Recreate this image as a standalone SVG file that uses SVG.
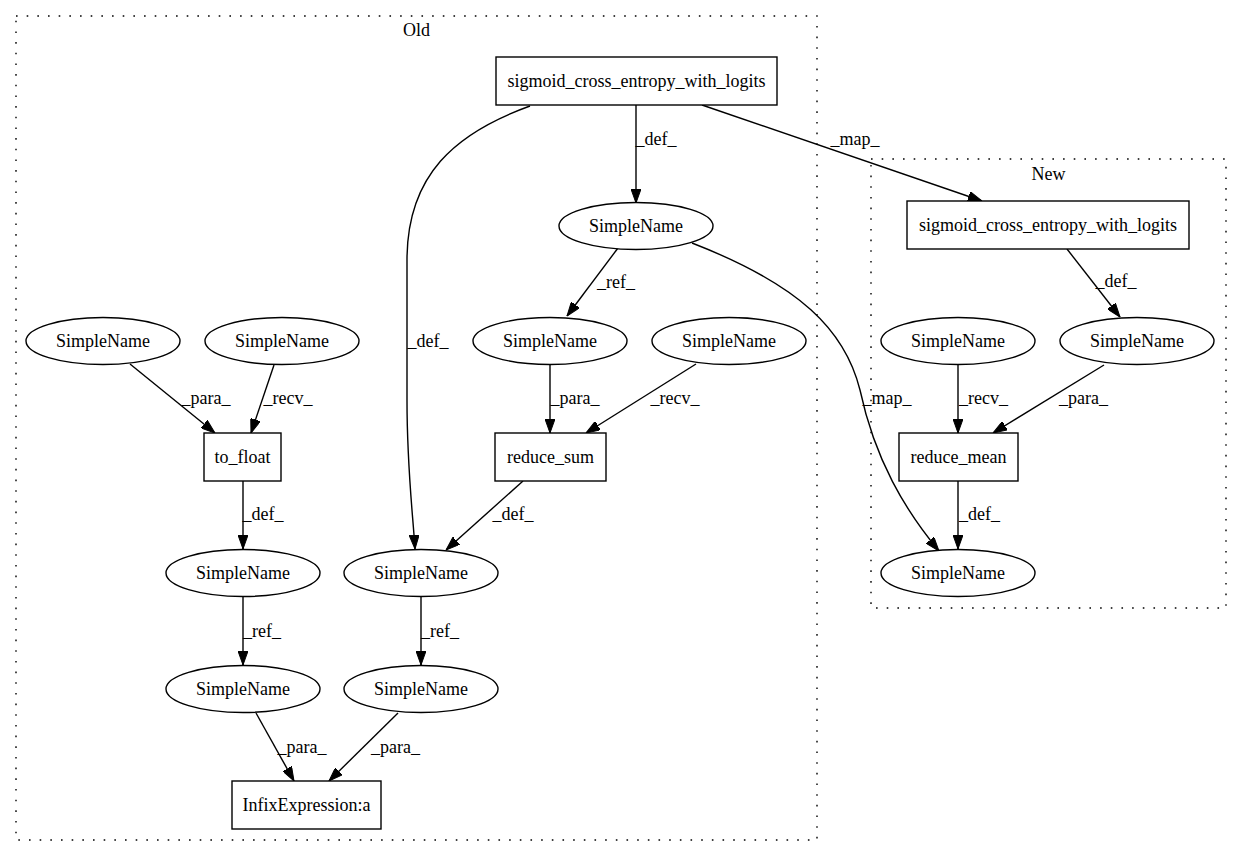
<svg xmlns="http://www.w3.org/2000/svg" width="1241" height="856" viewBox="0 0 1241 856">
<style>
text{font-family:"Liberation Serif","Times New Roman",serif;font-size:18px;fill:#000;text-anchor:middle}
.cl{fill:none;stroke:#000;stroke-width:1.4;stroke-dasharray:1.6,9.07}
.nd rect,.nd ellipse{fill:#fff;stroke:#000;stroke-width:1.4}
.ed path{fill:none;stroke:#000;stroke-width:1.4;marker-end:url(#ah)}
</style>
<defs>
<marker id="ah" viewBox="0 0 14 10" refX="14" refY="5" markerWidth="14" markerHeight="10" markerUnits="userSpaceOnUse" orient="auto">
<path d="M0,0 L14,5 L0,10 z" fill="#000" stroke="#000" stroke-width="1"/>
</marker>
</defs>
<rect width="1241" height="856" fill="#fff"/>
<g id="cluster_old"><rect class="cl" x="16" y="16" width="801" height="824"/><text x="416.5" y="36">Old</text></g>
<g id="cluster_new"><rect class="cl" x="871" y="159" width="355" height="449"/><text x="1048.5" y="180">New</text></g>
<g id="edges" class="ed">
<path d="M636,105 L636,203"/>
<path d="M530,106 C455,133 407,175 407,260 L407,400 C407,470 413,515 415,549"/>
<path d="M702,105 L982,201"/>
<path d="M618,248 L567,316"/>
<path d="M692,243 C800,285 845,330 860,390 C875,460 905,510 939,551"/>
<path d="M550,364 L550,433"/>
<path d="M696,364 L586,433"/>
<path d="M523,481 L446,550"/>
<path d="M130,364 L215,433"/>
<path d="M274,365 L251,433"/>
<path d="M243,481 L243,549"/>
<path d="M243,597 L243,665"/>
<path d="M421,597 L421,665"/>
<path d="M256,713 L294,781"/>
<path d="M398,713 L329,781"/>
<path d="M1067,249 L1120,317"/>
<path d="M958,364 L958,433"/>
<path d="M1104,365 L993,433"/>
<path d="M958,481 L958,549"/>
</g>
<g id="edge_labels">
<text x="656" y="145">_def_</text>
<text x="428" y="347">_def_</text>
<text x="855" y="145">_map_</text>
<text x="616" y="288">_ref_</text>
<text x="887" y="404">_map_</text>
<text x="575" y="404">_para_</text>
<text x="675" y="404">_recv_</text>
<text x="513" y="520">_def_</text>
<text x="206" y="404">_para_</text>
<text x="288" y="404">_recv_</text>
<text x="263" y="520">_def_</text>
<text x="262" y="637">_ref_</text>
<text x="440" y="637">_ref_</text>
<text x="302" y="753">_para_</text>
<text x="395.5" y="753">_para_</text>
<text x="1116" y="287">_def_</text>
<text x="983.5" y="404">_recv_</text>
<text x="1083.5" y="404">_para_</text>
<text x="979.5" y="520">_def_</text>
</g>
<g id="n_sig_old" class="nd"><rect x="496" y="57" width="281" height="48"/><text x="636.5" y="87">sigmoid_cross_entropy_with_logits</text></g>
<g id="n_sn1" class="nd"><ellipse cx="636" cy="226" rx="77" ry="23.5"/><text x="636" y="232">SimpleName</text></g>
<g id="n_sn_l1" class="nd"><ellipse cx="103" cy="341" rx="77" ry="23.5"/><text x="103" y="347">SimpleName</text></g>
<g id="n_sn_l2" class="nd"><ellipse cx="282" cy="341" rx="77" ry="23.5"/><text x="282" y="347">SimpleName</text></g>
<g id="n_sn_m1" class="nd"><ellipse cx="550" cy="341" rx="77" ry="23.5"/><text x="550" y="347">SimpleName</text></g>
<g id="n_sn_m2" class="nd"><ellipse cx="729" cy="341" rx="77" ry="23.5"/><text x="729" y="347">SimpleName</text></g>
<g id="n_to_float" class="nd"><rect x="204" y="433" width="77" height="48"/><text x="242.5" y="463">to_float</text></g>
<g id="n_reduce_sum" class="nd"><rect x="495" y="433" width="111" height="48"/><text x="550.5" y="463">reduce_sum</text></g>
<g id="n_sn_d1" class="nd"><ellipse cx="243" cy="573" rx="77" ry="23.5"/><text x="243" y="579">SimpleName</text></g>
<g id="n_sn_d2" class="nd"><ellipse cx="421" cy="573" rx="77" ry="23.5"/><text x="421" y="579">SimpleName</text></g>
<g id="n_sn_e1" class="nd"><ellipse cx="243" cy="689" rx="77" ry="23.5"/><text x="243" y="695">SimpleName</text></g>
<g id="n_sn_e2" class="nd"><ellipse cx="421" cy="689" rx="77" ry="23.5"/><text x="421" y="695">SimpleName</text></g>
<g id="n_infix" class="nd"><rect x="232" y="781" width="149" height="48"/><text x="306.5" y="811">InfixExpression:a</text></g>
<g id="n_sig_new" class="nd"><rect x="907" y="201" width="282" height="48"/><text x="1048" y="231">sigmoid_cross_entropy_with_logits</text></g>
<g id="n_sn_n1" class="nd"><ellipse cx="958" cy="341" rx="77" ry="23.5"/><text x="958" y="347">SimpleName</text></g>
<g id="n_sn_n2" class="nd"><ellipse cx="1137" cy="341" rx="77" ry="23.5"/><text x="1137" y="347">SimpleName</text></g>
<g id="n_reduce_mean" class="nd"><rect x="899" y="433" width="119" height="48"/><text x="958.5" y="463">reduce_mean</text></g>
<g id="n_sn_n3" class="nd"><ellipse cx="958" cy="573" rx="77" ry="23.5"/><text x="958" y="579">SimpleName</text></g>
</svg>
